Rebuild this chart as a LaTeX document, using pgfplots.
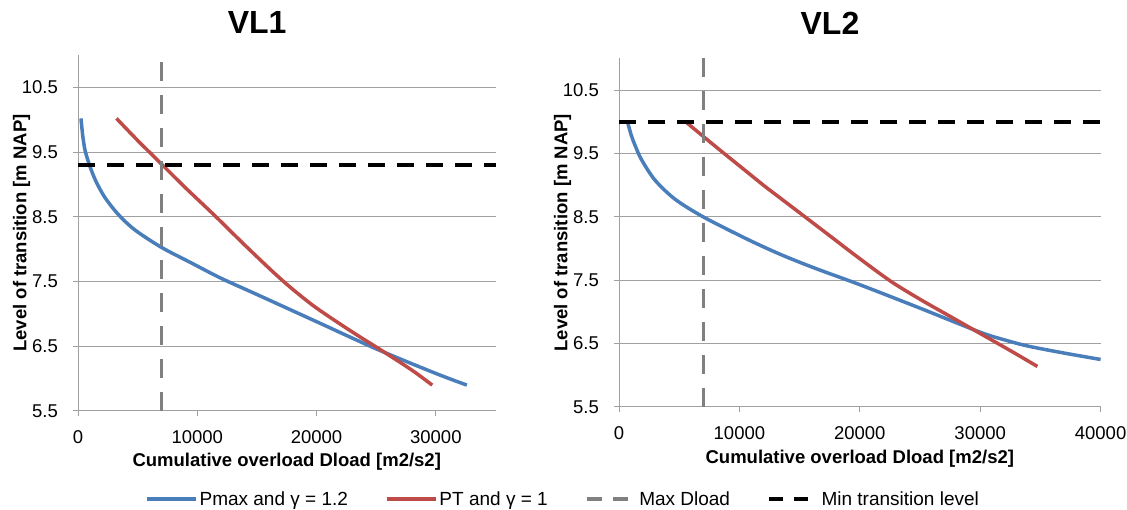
\documentclass[border=0pt]{standalone}
\usepackage{fontspec}
\setmainfont{Liberation Sans}
\usepackage{pgfplots}
\pgfplotsset{compat=1.18}
\definecolor{xblue}{HTML}{4A7EBB}
\definecolor{xred}{HTML}{BE4B48}
\definecolor{xgrid}{HTML}{A0A0A0}
\definecolor{xdash}{HTML}{808080}

\pgfplotsset{
  panel/.style={
    scale only axis,
    axis x line*=bottom, axis y line*=left,
    axis line style={-, xgrid, line width=1pt},
    ymin=5.5, ymax=11,
    ytick={5.5,6.5,7.5,8.5,9.5,10.5},
    yticklabels={5.5,6.5,7.5,8.5,9.5,10.5},
    ymajorgrids,
    grid style={xgrid, line width=1pt},
    xmin=0,
    scaled x ticks=false,
    tick align=outside,
    major tick length=5pt,
    tick style={xgrid, line width=1pt},
    ticklabel style={font=\fontsize{18.5}{21}\selectfont},
    yticklabel style={anchor=east, inner sep=0pt, xshift=-15pt},
    xticklabel style={anchor=north, inner sep=0pt, yshift=-14pt},
    label style={font=\bfseries\fontsize{18.5}{22}\selectfont},
    xlabel={Cumulative overload Dload [m2/s2]},
    ylabel={Level of transition [m NAP]},
    title style={font=\bfseries\fontsize{32}{36}\selectfont, anchor=center},
    clip=false,
    /pgf/number format/1000 sep={},
    /pgf/number format/assume math mode=true,
  },
  blueline/.style={xblue, line width=3.5pt, smooth, tension=0.5},
  redline/.style={xred, line width=3.5pt, smooth, tension=0.5},
  grayline/.style={xdash, line width=3.5pt, dash pattern=on 19pt off 14pt,
    legend image post style={dash pattern=on 15pt off 11pt}},
  blackline/.style={black, line width=3.5pt, dash pattern=on 17pt off 12pt,
    legend image post style={dash pattern=on 14pt off 11pt}},
}

\begin{document}
\begin{tikzpicture}[x=1pt,y=1pt]
\useasboundingbox (0,0) rectangle (1127,510);

% ---------------- VL1 ----------------
\begin{axis}[panel,
  at={(78pt,99pt)}, anchor=south west,
  width=417.5pt, height=356pt,
  xmax=35000,
  xtick={0,10000,20000,30000},
  title={VL1},
  title style={at={(axis description cs:0.429,1)}, yshift=27pt},
  xlabel style={at={(axis description cs:0.5,-0.142)}, anchor=center},
  ylabel style={at={(axis description cs:-0.135,0.5)}, anchor=center, rotate=0},
  legend columns=4,
  legend style={draw=none, fill=none, at={(axis description cs:1.1617,-0.2472)}, anchor=center,
    font=\fontsize{19}{22}\selectfont,
    /tikz/every even column/.append style={column sep=35pt},
    nodes={inner sep=2pt}},
  legend image code/.code={\draw[#1] (0pt,0pt) -- (49pt,0pt);},
]
\addplot[blueline] coordinates {
(250,10.02) (400,9.75) (600,9.52) (1000,9.28) (1500,9.05) (2250,8.8) (3360,8.54)
(4750,8.3) (6975,8.03) (9475,7.79) (12000,7.55) (15000,7.3) (20000,6.88)
(25000,6.46) (30000,6.08) (32600,5.9)};
\addlegendentry{Pmax and γ = 1.2}
\addplot[redline] coordinates {
(3225,10.02) (5000,9.68) (6975,9.32) (9000,8.95) (11400,8.53) (14000,8.06)
(16400,7.64) (18000,7.38) (20000,7.09) (23000,6.72) (25500,6.43) (28000,6.13) (29700,5.9)};
\addlegendentry{PT and γ = 1}
\addplot[grayline] coordinates {(7000,5.5) (7000,11)};
\addlegendentry{Max Dload}
\addplot[blackline] coordinates {(0,9.3) (35000,9.3)};
\addlegendentry{Min transition level}
\end{axis}

% ---------------- VL2 ----------------
\begin{axis}[panel,
  at={(619pt,103pt)}, anchor=south west,
  width=481.6pt, height=348.5pt,
  xmax=40000,
  xtick={0,10000,20000,30000,40000},
  title={VL2},
  title style={at={(axis description cs:0.438,1)}, yshift=29pt},
  xlabel style={at={(axis description cs:0.5,-0.147)}, anchor=center},
  ylabel style={at={(axis description cs:-0.117,0.5)}, anchor=center, rotate=0},
]
\addplot[blueline] coordinates {
(720,9.99) (1000,9.8) (1330,9.63) (1880,9.4) (2990,9.08) (4650,8.78) (7000,8.5)
(10740,8.14) (13510,7.9) (16280,7.69) (20000,7.43) (25000,7.06) (30000,6.68)
(32000,6.56) (34000,6.46) (37000,6.35) (40000,6.25)};
\addplot[redline] coordinates {
(5540,10.0) (7000,9.77) (8800,9.49) (10500,9.23) (12130,8.98) (14000,8.71)
(16280,8.38) (18000,8.13) (20000,7.84) (22600,7.48) (25000,7.2) (27500,6.93)
(30000,6.66) (32500,6.39) (34750,6.14)};
\addplot[grayline] coordinates {(7000,5.5) (7000,11)};
\addplot[blackline] coordinates {(0,10.0) (40000,10.0)};
\end{axis}
\end{tikzpicture}
\end{document}
